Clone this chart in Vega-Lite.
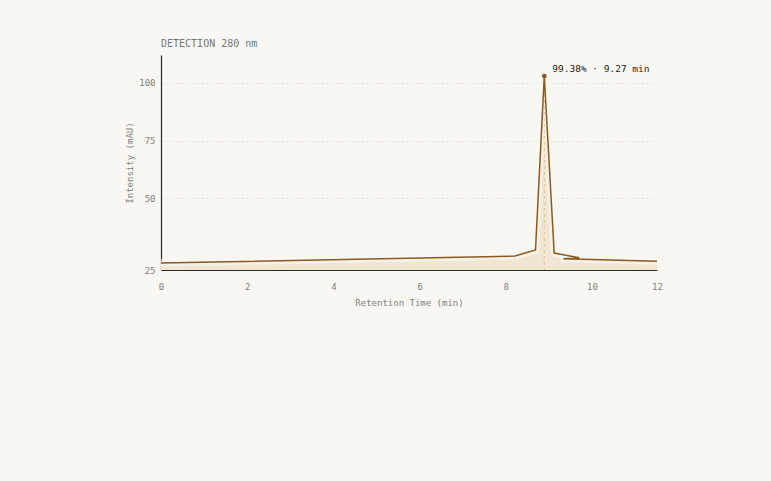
{
  "$schema": "https://vega.github.io/schema/vega-lite/v6.json",
  "width": 496,
  "height": 215,
  "autosize": {"type": "none"},
  "padding": {"left": 161, "top": 55, "right": 114, "bottom": 211},
  "background": "#f9f7f2",
  "config": {
    "view": {"stroke": null},
    "font": "DejaVu Sans Mono",
    "axis": {
      "labelFont": "DejaVu Sans Mono",
      "titleFont": "DejaVu Sans Mono",
      "labelColor": "#808080",
      "titleColor": "#808080",
      "labelFontSize": 9,
      "titleFontSize": 9,
      "titleFontWeight": "normal",
      "ticks": false,
      "domainColor": "#2a2a2a",
      "domainWidth": 1.2,
      "gridColor": "#e4e0d6",
      "gridDash": [2, 3],
      "labelFlush": false
    }
  },
  "title": {
    "text": "DETECTION 280 nm",
    "anchor": "start",
    "frame": "group",
    "fontSize": 10,
    "font": "DejaVu Sans Mono",
    "fontWeight": "normal",
    "color": "#787878",
    "offset": 6
  },
  "datasets": {
    "trace": [
      {"i": 0, "t": 0, "v": 22.02},
      {"i": 1, "t": 8.213, "v": 25.04},
      {"i": 2, "t": 8.689, "v": 27.64},
      {"i": 3, "t": 8.893, "v": 102.9},
      {"i": 4, "t": 9.123, "v": 26.34},
      {"i": 5, "t": 9.703, "v": 24.26},
      {"i": 6, "t": 9.334, "v": 23.83},
      {"i": 7, "t": 11.508, "v": 22.75}
    ],
    "peak": [
      {"t": 8.893, "v": 102.9, "base": 19, "label": "99.38% · 9.27 min"}
    ]
  },
  "layer": [
    {
      "data": {"name": "trace"},
      "mark": {"type": "area", "fill": "#f0e6d3", "fillOpacity": 1, "opacity": 1},
      "encoding": {
        "x": {
          "field": "t", "type": "quantitative",
          "scale": {"domain": [0, 11.508], "nice": false, "zero": false},
          "axis": {
            "title": "Retention Time (min)",
            "values": [0, 2, 4, 6, 8, 10, 11.508],
            "labelExpr": "format(round(datum.value / 2) * 2, 'd')",
            "grid": false,
            "labelPadding": 12,
            "titlePadding": 7
          }
        },
        "y": {
          "field": "v", "type": "quantitative", "stack": null,
          "scale": {"domain": [19, 112], "nice": false, "zero": false},
          "axis": {
            "title": "Intensity (mAU)",
            "values": [19, 50, 75, 100],
            "labelExpr": "format(round(datum.value / 25) * 25, 'd')",
            "grid": true,
            "labelPadding": 6,
            "titlePadding": 4
          }
        }
      }
    },
    {
      "data": {"name": "trace"},
      "mark": {"type": "line", "color": "#f9f7f2", "strokeWidth": 7, "opacity": 0.65, "strokeJoin": "round"},
      "encoding": {
        "x": {"field": "t", "type": "quantitative", "scale": {"domain": [0, 11.508], "nice": false, "zero": false}},
        "y": {"field": "v", "type": "quantitative", "scale": {"domain": [19, 112], "nice": false, "zero": false}},
        "order": {"field": "i", "type": "quantitative"}
      }
    },
    {
      "data": {"name": "peak"},
      "mark": {"type": "rule", "color": "#e3c28c", "strokeDash": [3, 3], "strokeWidth": 1},
      "encoding": {
        "x": {"field": "t", "type": "quantitative", "scale": {"domain": [0, 11.508], "nice": false, "zero": false}},
        "y": {"field": "v", "type": "quantitative", "scale": {"domain": [19, 112], "nice": false, "zero": false}},
        "y2": {"field": "base"}
      }
    },
    {
      "data": {"name": "trace"},
      "mark": {"type": "line", "color": "#8b5a1e", "strokeWidth": 1.5},
      "encoding": {
        "x": {"field": "t", "type": "quantitative", "scale": {"domain": [0, 11.508], "nice": false, "zero": false}},
        "y": {"field": "v", "type": "quantitative", "scale": {"domain": [19, 112], "nice": false, "zero": false}},
        "order": {"field": "i", "type": "quantitative"}
      }
    },
    {
      "data": {"name": "peak"},
      "mark": {"type": "point", "filled": true, "color": "#8b5a1e", "size": 22, "opacity": 1},
      "encoding": {
        "x": {"field": "t", "type": "quantitative", "scale": {"domain": [0, 11.508], "nice": false, "zero": false}},
        "y": {"field": "v", "type": "quantitative", "scale": {"domain": [19, 112], "nice": false, "zero": false}}
      }
    },
    {
      "data": {"name": "peak"},
      "mark": {"type": "text", "align": "left", "baseline": "alphabetic", "dx": 8, "dy": -4, "fontSize": 9.5, "color": "#1e1e1e", "font": "DejaVu Sans Mono"},
      "encoding": {
        "x": {"field": "t", "type": "quantitative", "scale": {"domain": [0, 11.508], "nice": false, "zero": false}},
        "y": {"field": "v", "type": "quantitative", "scale": {"domain": [19, 112], "nice": false, "zero": false}},
        "text": {"field": "label"}
      }
    }
  ]
}
